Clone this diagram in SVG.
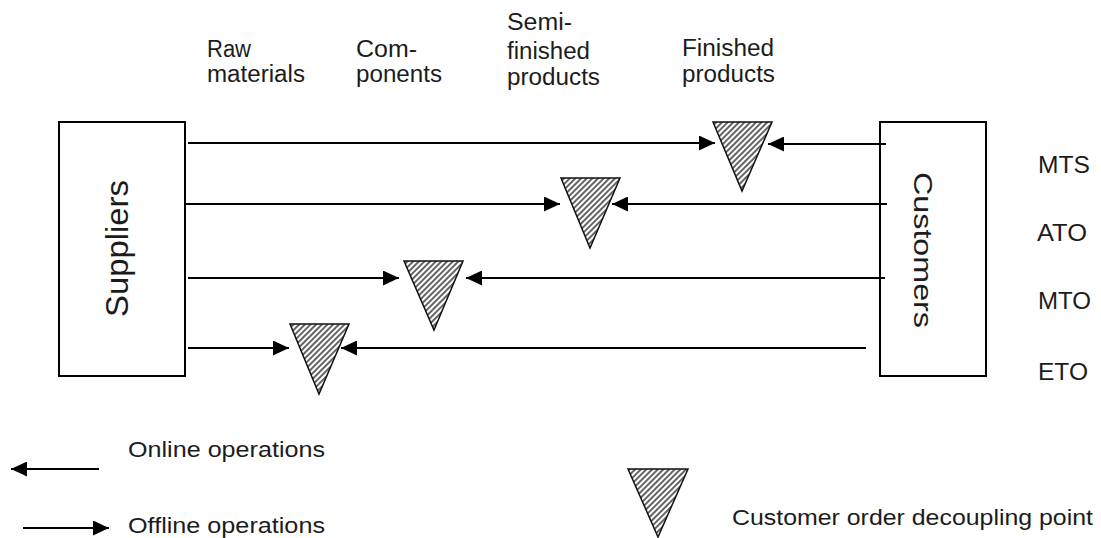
<svg xmlns="http://www.w3.org/2000/svg" width="1101" height="538" viewBox="0 0 1101 538">
<style>
.box{fill:#fff;stroke:#000;stroke-width:2}
.cdp{fill:url(#hatch);stroke:#111;stroke-width:1.5;stroke-linejoin:miter}
.conn{stroke:#000;stroke-width:2;fill:none;marker-end:url(#ah)}
text{font-family:"Liberation Sans",Arial,sans-serif;fill:#1c1c1c}
.lbl{font-size:23px}
.mode{font-size:23px}
.leg{font-size:21.5px}
</style>
<defs>
<pattern id="hatch" patternUnits="userSpaceOnUse" width="4" height="10" patternTransform="rotate(45)">
<rect width="4" height="10" fill="#fff"/>
<line x1="1" y1="0" x2="1" y2="10" stroke="#111" stroke-width="1.3"/>
</pattern>
<marker id="ah" markerUnits="userSpaceOnUse" markerWidth="16" markerHeight="15" refX="16" refY="7.5" orient="auto">
<path d="M0,0 L16,7.5 L0,15 Z" fill="#000"/>
</marker>
</defs>

<g id="suppliers">
<rect class="box" x="59" y="122" width="126" height="254"/>
<text transform="translate(128,248.5) rotate(-90)" text-anchor="middle" font-size="31" textLength="137" lengthAdjust="spacingAndGlyphs">Suppliers</text>
</g>

<g id="customers">
<rect class="box" x="880" y="122" width="106" height="254"/>
<text transform="translate(914,250) rotate(90)" text-anchor="middle" font-size="26" textLength="156" lengthAdjust="spacingAndGlyphs">Customers</text>
</g>

<g id="cdp-mts"><polygon class="cdp" points="713,122 772,122 742,191"/></g>
<g id="cdp-ato"><polygon class="cdp" points="561,178 620,178 590,248"/></g>
<g id="cdp-mto"><polygon class="cdp" points="404,261 463,261 434,330"/></g>
<g id="cdp-eto"><polygon class="cdp" points="290,324 349,324 319,394"/></g>

<g id="connectors">
<line class="conn" x1="188" y1="143" x2="715" y2="143"/>
<line class="conn" x1="886" y1="144" x2="768" y2="144"/>
<line class="conn" x1="186" y1="204" x2="560" y2="204"/>
<line class="conn" x1="887" y1="204" x2="612" y2="204"/>
<line class="conn" x1="188" y1="278" x2="399" y2="278"/>
<line class="conn" x1="885" y1="278" x2="466" y2="278"/>
<line class="conn" x1="188" y1="348" x2="289" y2="348"/>
<line class="conn" x1="866" y1="348" x2="341" y2="348"/>
<line class="conn" x1="99" y1="469" x2="11" y2="469"/>
<line class="conn" x1="23" y1="528" x2="109" y2="528"/>
</g>

<g id="stage-labels">
<text class="lbl" x="207" y="57" textLength="44" lengthAdjust="spacingAndGlyphs">Raw</text>
<text class="lbl" x="207" y="82" textLength="98" lengthAdjust="spacingAndGlyphs">materials</text>
<text class="lbl" x="356" y="57" textLength="61" lengthAdjust="spacingAndGlyphs">Com-</text>
<text class="lbl" x="356" y="82" textLength="86" lengthAdjust="spacingAndGlyphs">ponents</text>
<text class="lbl" x="507" y="30" textLength="65" lengthAdjust="spacingAndGlyphs">Semi-</text>
<text class="lbl" x="507" y="59" textLength="83" lengthAdjust="spacingAndGlyphs">finished</text>
<text class="lbl" x="507" y="85" textLength="93" lengthAdjust="spacingAndGlyphs">products</text>
<text class="lbl" x="682" y="56" textLength="92" lengthAdjust="spacingAndGlyphs">Finished</text>
<text class="lbl" x="682" y="82" textLength="93" lengthAdjust="spacingAndGlyphs">products</text>
</g>

<g id="mode-labels">
<text class="mode" x="1038" y="173" textLength="52" lengthAdjust="spacingAndGlyphs">MTS</text>
<text class="mode" x="1037" y="241" textLength="50" lengthAdjust="spacingAndGlyphs">ATO</text>
<text class="mode" x="1038" y="309" textLength="53" lengthAdjust="spacingAndGlyphs">MTO</text>
<text class="mode" x="1038" y="380" textLength="50" lengthAdjust="spacingAndGlyphs">ETO</text>
</g>

<g id="legend">
<text class="leg" x="128" y="457" textLength="197" lengthAdjust="spacingAndGlyphs">Online operations</text>
<text class="leg" x="128" y="533" textLength="197" lengthAdjust="spacingAndGlyphs">Offline operations</text>
<g id="legend-cdp"><polygon class="cdp" points="628,469 688,469 658,537"/></g>
<text class="leg" x="732" y="525" textLength="361" lengthAdjust="spacingAndGlyphs">Customer order decoupling point</text>
</g>
</svg>
